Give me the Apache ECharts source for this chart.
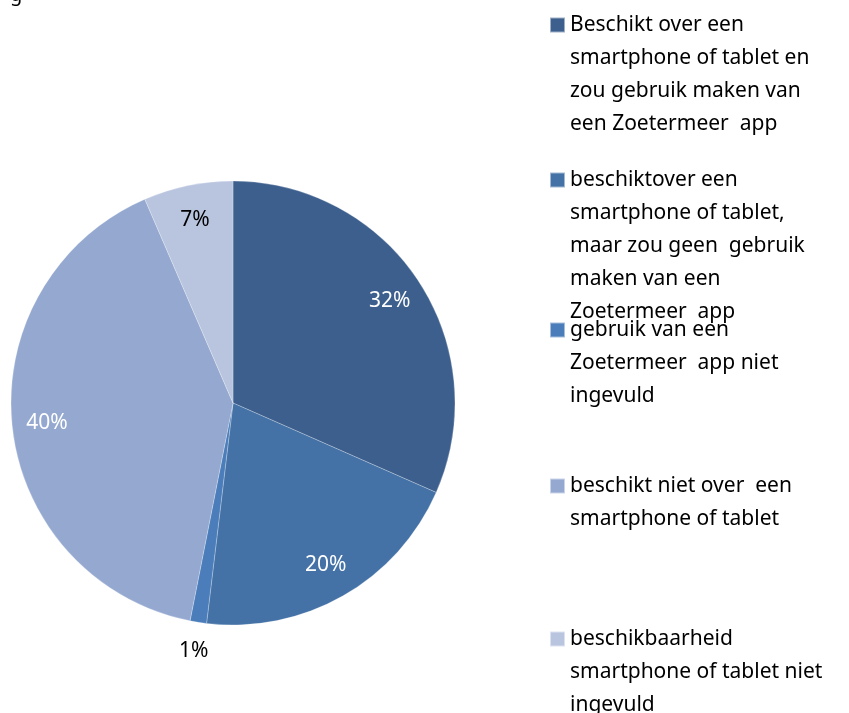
<!DOCTYPE html>
<html>
<head>
<meta charset="utf-8">
<script src="https://cdn.jsdelivr.net/npm/echarts@6/dist/echarts.min.js"></script>
<style>
  html, body { margin: 0; padding: 0; background: #fff; }
  #chart { width: 849px; height: 713px; }
</style>
</head>
<body>
<div id="chart"></div>
<script>
// categories as they appear in the legend
const categories = [
  'Beschikt over een smartphone of tablet en zou gebruik maken van een Zoetermeer app',
  'beschiktover een smartphone of tablet, maar zou geen gebruik maken van een Zoetermeer app',
  'gebruik van een Zoetermeer app niet ingevuld',
  'beschikt niet over een smartphone of tablet',
  'beschikbaarheid smartphone of tablet niet ingevuld'
]
// wrapped legend text, one entry per category
const legendLines = [
  ['Beschikt over een', 'smartphone of tablet en', 'zou gebruik maken van', 'een Zoetermeer  app'],
  ['beschiktover een', 'smartphone of tablet,', 'maar zou geen  gebruik', 'maken van een', 'Zoetermeer  app'],
  ['gebruik van een', 'Zoetermeer  app niet', 'ingevuld'],
  ['beschikt niet over  een', 'smartphone of tablet'],
  ['beschikbaarheid', 'smartphone of tablet niet', 'ingevuld']
]
// shares in percent
const values = [31.6, 20.3, 1.2, 40.4, 6.5]
const colors = ['#3d5f8d', '#4472a6', '#4a7dba', '#94a8d0', '#b9c4df']
const labelColors = ['#fff', '#fff', '#000', '#fff', '#000']
// icon centre (first line) for each legend entry
const legendY = [25, 180, 330, 486, 639]

const FONT = 'Noto Sans'
const LH = 33
const center = [233, 403]
const R = 222

const chart = echarts.init(document.getElementById('chart'))

const pieData = categories.map((name, i) => ({
  name: name,
  value: values[i],
  itemStyle: { color: colors[i] }
}))

const labelData = (show) => categories.map((name, i) => ({
  name: name,
  value: values[i],
  label: {
    show: show(i),
    color: labelColors[i]
  }
}))

const pctFmt = p => Math.round(p.value) + '%'

// icon is centred on the text block, so push the first line onto the icon
// by adding n-1 empty lines above it
const legends = categories.map((name, i) => {
  const n = legendLines[i].length
  return {
    data: [name],
    left: 549,
    top: legendY[i] - (2 * n - 1) * LH / 2,
    padding: 0,
    orient: 'vertical',
    icon: 'rect',
    itemWidth: 15,
    itemHeight: 15,
    selectedMode: false,
    formatter: () => '\n'.repeat(n - 1) + legendLines[i].join('\n'),
    textStyle: {
      fontFamily: FONT,
      fontSize: 21,
      color: '#000',
      lineHeight: LH
    }
  }
})

const option = {
  animation: false,
  graphic: [{
    type: 'text',
    left: 10,
    top: -15,
    style: { text: 'g', font: '20px ' + FONT, fill: '#000' }
  }],
  legend: legends,
  series: [
    {
      type: 'pie',
      center: center,
      radius: R,
      startAngle: 90,
      clockwise: true,
      silent: true,
      label: { show: false },
      labelLine: { show: false },
      itemStyle: { borderColor: 'rgba(255,255,255,0.5)', borderWidth: 0.5 },
      data: pieData
    },
    {
      // transparent ring that carries the inner labels
      type: 'pie',
      center: center,
      radius: [146, R],
      startAngle: 90,
      clockwise: true,
      silent: true,
      itemStyle: { color: 'transparent' },
      label: {
        position: 'inside',
        formatter: pctFmt,
        fontFamily: FONT,
        fontSize: 21
      },
      labelLine: { show: false },
      data: labelData(i => i !== 2)
    },
    {
      // transparent ring outside the pie for the small slice label
      type: 'pie',
      center: center,
      radius: [R, 274],
      startAngle: 90,
      clockwise: true,
      silent: true,
      itemStyle: { color: 'transparent' },
      label: {
        position: 'inside',
        formatter: pctFmt,
        fontFamily: FONT,
        fontSize: 21
      },
      labelLine: { show: false },
      data: labelData(i => i === 2)
    }
  ]
}

chart.setOption(option)
</script>
</body>
</html>
